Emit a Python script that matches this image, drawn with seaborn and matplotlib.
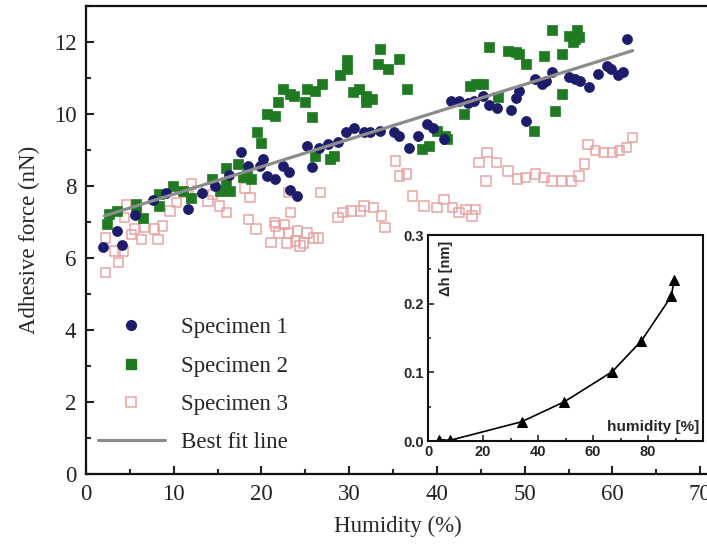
import numpy as np
import pandas as pd
import matplotlib
matplotlib.use("Agg")
import matplotlib.pyplot as plt
from matplotlib.lines import Line2D
from matplotlib.ticker import MultipleLocator, FormatStrFormatter
import seaborn as sns

# ---------------- data ----------------
s1_x = [1.9, 3.5, 4.1, 5.6, 7.6, 9.1, 11.6, 13.2, 14.7, 16.3, 17.7, 18.5, 19.8, 20.2, 20.6,
        21.5, 22.5, 23.1, 23.3, 24.1, 25.2, 25.8, 26.5, 27.6, 28.7, 29.6, 30.5, 31.7, 32.4,
        33.5, 35.1, 35.7, 36.8, 37.8, 38.9, 39.6, 40.8, 41.6, 42.5, 43.5, 44.2, 45.2, 45.9,
        46.8, 48.4, 49.0, 49.4, 50.1, 51.2, 52.0, 52.4, 53.1, 55.1, 55.7, 56.3, 57.3, 58.3,
        59.4, 59.8, 60.6, 61.2, 61.7]
s1_y = [6.3, 6.75, 6.35, 7.2, 7.6, 7.8, 7.37, 7.8, 8.0, 8.3, 8.95, 8.56, 8.56, 8.75, 8.28,
        8.19, 8.56, 8.4, 7.9, 7.72, 9.1, 8.52, 9.05, 9.17, 9.22, 9.5, 9.6, 9.5, 9.49,
        9.53, 9.49, 9.38, 9.05, 9.4, 9.72, 9.6, 9.3, 10.37, 10.35, 10.3, 10.37, 10.5, 10.25,
        10.18, 10.1, 10.45, 10.65, 9.81, 10.97, 10.84, 10.93, 11.16, 11.02, 10.97, 10.93, 10.74, 11.12,
        11.34, 11.25, 11.07, 11.16, 12.09]

s2_x = [2.4, 2.6, 3.5, 5.7, 5.7, 6.5, 8.3, 8.3, 9.9, 11.1, 12.0, 14.4, 15.3, 16.0, 16.0,
        16.4, 17.3, 17.9, 18.3, 18.8, 19.5, 20.0, 20.6, 21.5, 21.9, 22.5, 23.3, 23.7, 25.0,
        25.2, 25.8, 26.1, 26.1, 26.9, 27.8, 28.3, 29.0, 29.8, 29.8, 30.4, 31.1, 31.9, 31.9,
        32.6, 33.3, 33.5, 34.4, 35.7, 36.6, 38.3, 39.1, 40.0, 40.9, 41.1, 43.1, 43.8, 44.4,
        45.2, 45.9, 47.0, 48.1, 49.0, 49.4, 50.1, 51.1, 52.2, 53.1, 53.5, 54.2, 54.3, 55.1,
        55.5, 55.7, 56.0, 56.2]
s2_y = [6.94, 7.21, 7.3, 7.49, 7.26, 7.12, 7.77, 7.45, 8.0, 7.86, 7.68, 8.19, 7.86, 8.09, 8.51,
        7.86, 8.6, 8.24, 8.3, 8.19, 9.5, 9.2, 10.0, 9.95, 10.33, 10.7, 10.56, 10.5, 10.33,
        10.7, 9.91, 10.65, 8.84, 10.84, 8.75, 8.84, 11.07, 11.49, 11.25, 10.6, 10.7, 10.5, 10.33,
        10.42, 11.4, 11.8, 11.25, 11.53, 10.7, 9.02, 9.12, 9.53, 9.39, 9.3, 10.0, 10.79, 10.83,
        10.83, 11.86, 10.46, 11.76, 11.72, 11.67, 11.39, 9.54, 11.62, 12.32, 10.09, 10.56, 11.67, 12.18,
        12.0, 12.09, 12.32, 12.14]

s3_x = [2.2, 3.7, 2.2, 3.3, 4.2, 4.4, 4.6, 5.2, 5.5, 6.3, 6.7, 7.8, 8.2, 8.7, 9.6, 10.3,
        11.4, 12.0, 12.7, 13.9, 14.4, 15.2, 16.0, 18.1, 18.7, 18.5, 19.4, 21.1, 21.6, 22.0,
        21.5, 22.6, 22.9, 23.1, 23.1, 23.3, 23.9, 24.1, 24.4, 24.8, 25.2, 25.9, 26.5, 26.7,
        28.7, 29.3, 30.2, 31.3, 31.7, 32.8, 33.7, 34.1, 35.3, 35.7, 36.5, 37.2, 38.5, 40.0,
        40.8, 41.8, 42.5, 43.3, 44.0, 44.4, 44.8, 45.6, 45.7, 46.8, 48.1, 49.2, 50.1, 51.2,
        52.2, 53.1, 54.2, 55.3, 56.2, 56.8, 57.2, 58.1, 59.0, 60.0, 60.8, 61.6, 62.3]
s3_y = [5.59, 5.87, 6.56, 6.2, 6.2, 7.12, 7.49, 6.66, 6.8, 6.52, 6.84, 6.8, 6.52, 6.89, 7.31, 7.54,
        7.82, 8.05, 7.86, 7.58, 7.77, 7.45, 7.26, 7.95, 7.68, 7.07, 6.8, 6.43, 6.89, 6.7,
        6.98, 6.93, 6.42, 6.7, 7.82, 7.26, 6.47, 6.75, 6.33, 6.42, 6.7, 6.56, 6.56, 7.82,
        7.12, 7.26, 7.3, 7.3, 7.45, 7.4, 7.17, 6.84, 8.7, 8.28, 8.33, 7.72, 7.45, 7.4,
        7.63, 7.4, 7.26, 7.35, 7.17, 7.35, 8.65, 8.14, 8.93, 8.65, 8.42, 8.19, 8.24, 8.33,
        8.24, 8.14, 8.14, 8.14, 8.28, 8.61, 9.16, 8.98, 8.93, 8.93, 8.98, 9.07, 9.35]

fit_x = [2.1, 62.3]
fit_y = [7.17, 11.76]

inset_x = [4.0, 8.0, 34.0, 49.5, 67.0, 77.6, 88.5, 89.4]
inset_y = [0.002, 0.001, 0.028, 0.057, 0.101, 0.146, 0.211, 0.234]

labels = ["Specimen 1", "Specimen 2", "Specimen 3", "Best fit line"]
x_label = "Humidity (%)"
y_label = "Adhesive force (nN)"
inset_xlabel = "humidity [%]"
inset_ylabel = "\u0394h [nm]"

# ---------------- style ----------------
sns.set_theme(style="ticks")
plt.rcParams["font.family"] = ["Liberation Serif", "DejaVu Serif"]
plt.rcParams["xtick.direction"] = "in"
plt.rcParams["ytick.direction"] = "in"

C1 = "#1c1c6b"
C2 = "#1f7a22"
C3 = "#e8a3a3"
CFIT = "#8c8c8c"
FS = 16.5
SANS = ["Liberation Sans", "DejaVu Sans"]

fig = plt.figure(figsize=(7.07, 5.45), dpi=100)
ax = fig.add_axes([0.1216, 0.1303, 0.8812, 0.8587])

sns.lineplot(x=fit_x, y=fit_y, ax=ax, color=CFIT, linewidth=2.3, zorder=4)
sns.scatterplot(x=s3_x, y=s3_y, ax=ax, marker="s", s=46, zorder=2)
ax.collections[-1].set_facecolor("none")
ax.collections[-1].set_edgecolor(C3)
ax.collections[-1].set_linewidth(1.1)
sns.scatterplot(x=s2_x, y=s2_y, ax=ax, marker="s", s=46, color=C2,
                edgecolor=C2, linewidth=0.5, zorder=3)
sns.scatterplot(x=s1_x, y=s1_y, ax=ax, marker="o", s=52, color=C1,
                edgecolor=C1, linewidth=0.5, zorder=3)

ax.set_xlim(0, 71)
ax.set_ylim(0, 13)
ax.set_xticks([0, 10, 20, 30, 40, 50, 60, 70])
ax.xaxis.set_minor_locator(MultipleLocator(5))
ax.yaxis.set_major_locator(MultipleLocator(2))
ax.yaxis.set_minor_locator(MultipleLocator(1))
ax.tick_params(which="major", length=6, width=1.5, labelsize=FS, pad=7,
               top=False, right=False, colors="#222222")
ax.tick_params(which="minor", length=3.5, width=1.5, top=False, right=False)
for sp in ax.spines.values():
    sp.set_linewidth(1.6)
    sp.set_color("#111111")
ax.set_xlabel(x_label, fontsize=FS, labelpad=8)
ax.set_ylabel(y_label, fontsize=FS, labelpad=10)

handles = [
    Line2D([], [], linestyle="none", marker="o", markersize=7, color=C1),
    Line2D([], [], linestyle="none", marker="s", markersize=6.5, color=C2),
    Line2D([], [], linestyle="none", marker="s", markersize=6.5,
           markerfacecolor="none", markeredgecolor=C3, markeredgewidth=1.1),
    Line2D([], [], color=CFIT, linewidth=2.3),
]
ax.legend(handles, labels, loc="lower left", bbox_to_anchor=(0.005, 0.025),
          frameon=False, fontsize=FS, handlelength=2.9, handletextpad=0.7,
          labelspacing=0.75, borderaxespad=0)

# ---------------- inset ----------------
ins = fig.add_axes([0.6054, 0.1908, 0.389, 0.378])
sns.lineplot(x=inset_x, y=inset_y, ax=ins, color="black", linewidth=1.2,
             marker="^", markersize=7, markeredgecolor="black")
ins.set_xlim(0, 100)
ins.set_ylim(0, 0.30)
ins.set_xticks([0, 20, 40, 60, 80])
ins.xaxis.set_minor_locator(MultipleLocator(10))
ins.yaxis.set_major_locator(MultipleLocator(0.1))
ins.yaxis.set_minor_locator(MultipleLocator(0.05))
ins.yaxis.set_major_formatter(FormatStrFormatter("%.1f"))
ins.tick_params(which="major", length=4, width=1.2, labelsize=10.5, pad=3)
ins.tick_params(which="minor", length=2.5, width=1.2)
for t in ins.get_xticklabels() + ins.get_yticklabels():
    t.set_family(SANS)
    t.set_fontweight("bold")
for sp in ins.spines.values():
    sp.set_linewidth(1.5)
    sp.set_color("#111111")
ins.set_xlabel("")
ins.set_ylabel("")
ins.text(0.985, 0.07, inset_xlabel, transform=ins.transAxes, ha="right", va="center",
         fontsize=11, family=SANS, fontweight="bold")
ins.text(0.065, 0.97, inset_ylabel, transform=ins.transAxes, ha="center", va="top",
         rotation=90, fontsize=10.5, family=SANS, fontweight="bold")

fig.savefig("out.png", dpi=100)
